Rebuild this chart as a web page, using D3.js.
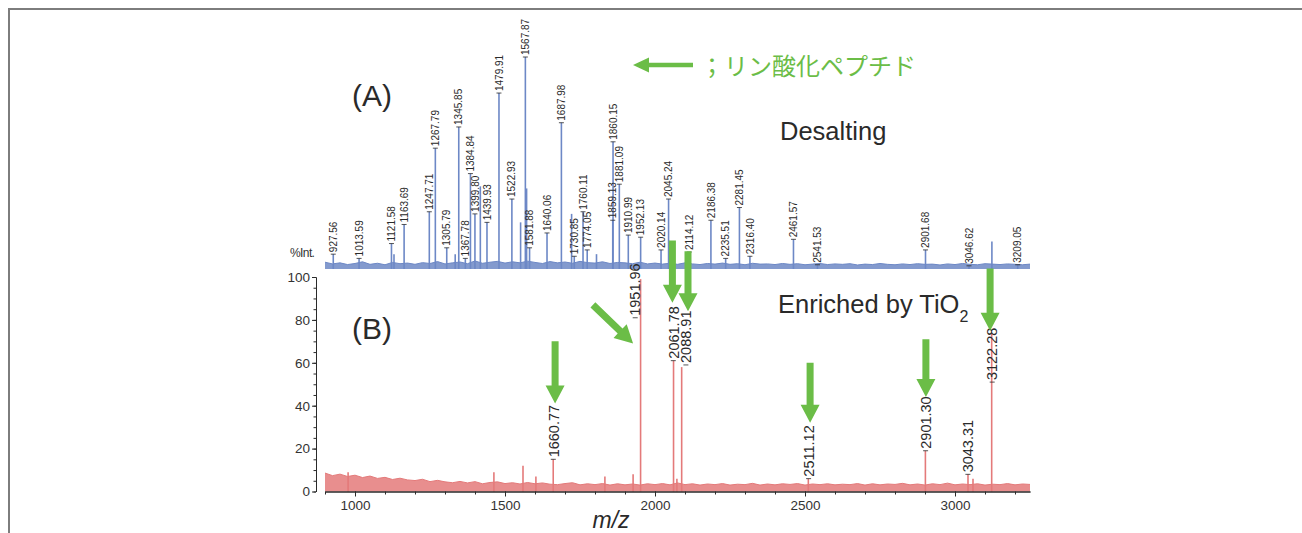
<!DOCTYPE html>
<html>
<head>
<meta charset="utf-8">
<script src="https://cdn.jsdelivr.net/npm/d3@7"></script>
<style>
	body{margin:0;background:#fff;overflow:hidden;}
	svg text{font-family:"Liberation Sans",Arial,sans-serif;}
</style>
</head>
<body>
<div id="chart-box"></div>
<script>
// (A) Desalting: labelled peaks, m/z and %Int
const aPeakMz=[927.56,1013.59,1121.58,1163.69,1247.71,1267.79,1305.79,1345.85,1367.78,1384.84,1399.80,1439.93,1479.91,1522.93,1567.87,1581.88,1640.06,1687.98,1730.85,1760.11,1774.05,1859.13,1860.15,1881.09,1910.99,1952.13,2020.14,2045.24,2114.12,2186.38,2235.51,2281.45,2316.40,2461.57,2541.53,2901.68,3046.62,3209.05];
const aPeakInt=[7,5,12,21,27,57,10,67,5,45,26,22,83,33,100,10,17,69,6,27,9,23,60,40,16,15,9,33,8,23,5,29,6,14,2,9,1.5,2];
// (A) peaks without label
const aExtraMz=[1130,1334,1417.8,1552,1572,1722,1805,3123];
const aExtraInt=[7,7,39,22,38,26,7,13];
// (A) baseline noise, every 25 m/z from 900
const aNoise=[3.2,2.4,2.9,2.1,2.6,3.4,2.2,2.7,2.0,3.1,2.5,2.8,2.2,3.0,2.6,3.5,2.4,2.9,3.3,2.5,3.8,2.7,3.2,3.6,2.8,3.4,2.9,3.7,3.1,2.6,3.5,2.9,3.3,2.7,3.6,3.0,2.8,3.4,2.6,3.1,2.9,2.5,3.2,2.4,2.8,2.3,2.7,2.2,2.9,2.4,2.1,2.6,2.3,2.8,2.2,2.5,2.0,2.7,2.3,2.4,2.1,2.6,2.2,2.5,2.0,2.3,2.6,2.1,2.4,2.2,2.5,1.9,2.3,2.1,2.6,2.2,2.0,2.4,2.1,2.5,2.2,2.3,1.9,2.4,2.1,2.6,2.2,2.0,2.5,2.3,2.1,2.4,2.2,2.0,2.3];

// (B) Enriched by TiO2: labelled peaks
const bPeakMz=[1660.77,1951.96,2061.78,2088.91,2511.12,2901.30,3043.31,3122.28];
const bPeakInt=[15,99,61,58,6,19,8,74];
// (B) where each label sits: m/z of its centre and %Int of its start
const bLabelMz=[1661,1934,2061,2103,2512,2902,3043,3124];
const bLabelAt=[15,81,61,59,6,19,8,51];
// (B) peaks without label
const bExtraMz=[977,1463,1560,1603,1833,1927,2073,3060];
const bExtraInt=[9,9,12,7,7,8,6,6];
// (B) baseline noise, every 25 m/z from 900
const bNoise=[8.6,7.4,8.1,7.0,7.6,6.5,7.2,6.1,6.6,5.6,6.2,5.4,5.1,5.7,4.6,5.2,4.5,4.1,4.7,4.0,4.6,3.6,4.2,4.5,3.7,4.1,3.5,4.2,3.6,4.0,3.4,3.2,3.7,4.1,3.1,3.6,3.2,3.7,3.0,3.6,3.1,3.5,3.0,3.6,3.2,3.7,3.1,4.0,3.2,3.6,3.0,3.5,3.2,3.7,3.0,3.4,3.2,3.8,3.0,3.5,3.1,3.6,3.3,3.7,3.0,3.5,3.2,3.6,3.1,3.4,3.2,3.7,3.0,3.6,3.1,3.5,3.3,3.8,3.1,3.5,3.0,3.6,3.2,3.9,3.1,3.5,3.2,3.6,3.0,3.4,3.2,3.7,3.1,3.5,3.3];

// green arrows in (B): start and tip, in m/z and %Int
const arrowFromMz=[1667,1793,2058,2110,2517,2903,3117];
const arrowFromInt=[70,87,117,112,60,71,104];
const arrowToMz=[1667,1927,2058,2110,2517,2903,3117];
const arrowToInt=[41,69,88,84,32,44,75];

// axes
const xTicks=[1000,1500,2000,2500,3000];
const yTicks=[0,20,40,60,80,100];

const chart=
{
	draw: function ()
	{
		const w=1302;
		const h=533;
		const blue="#6d88c6";
		const red="#e47a7a";
		const green="#6bbd47";
		const ink="#2a2a2a";

		const svg=d3.select("#chart-box")
		.append("svg")
		.attr("width",w)
		.attr("height",h);

		// frame
		svg.append("rect")
		.attr("x",9)
		.attr("y",9)
		.attr("width",1400)
		.attr("height",600)
		.style("fill","none")
		.style("stroke","#7d7d7d")
		.style("stroke-width",2);

		// scales
		const xScale=d3.scaleLinear()
		.domain([900,3250])
		.range([325,1030]);
		const yA=d3.scaleLinear()
		.domain([0,100])
		.range([269,57]);
		const yB=d3.scaleLinear()
		.domain([0,100])
		.range([491.5,277]);

		const noiseMz=(arr)=> arr.map((d,i)=> 900+25*i);

		//spectra
		this.plotSpectrum(svg,xScale,yA,aNoise,noiseMz(aNoise),aPeakMz.concat(aExtraMz),aPeakInt.concat(aExtraInt),blue);
		this.plotSpectrum(svg,xScale,yB,bNoise,noiseMz(bNoise),bPeakMz.concat(bExtraMz),bPeakInt.concat(bExtraInt),red);

		// peak labels
		this.plotLabels(svg,xScale,yA,aPeakMz,aPeakMz,aPeakInt,10,ink);
		this.plotLabels(svg,xScale,yB,bPeakMz,bLabelMz,bLabelAt,14.5,ink);

		// X axis
		svg.append("g")
		.attr("transform","translate(0,491.5)")
		.call(d3.axisBottom(xScale).tickValues(xScale.ticks(24)).tickSize(3).tickSizeOuter(0).tickFormat(""))
		.call(g=> g.selectAll("path,line").style("stroke",ink));
		svg.append("g")
		.attr("id","x-axis")
		.attr("transform","translate(0,491.5)")
		.call(d3.axisBottom(xScale).tickValues(xTicks).tickSize(5).tickSizeOuter(0).tickPadding(4).tickFormat(d3.format("d")))
		.call(g=> g.selectAll("path,line").style("stroke",ink))
		.call(g=> g.selectAll("text").style("font-size","13.5px").style("fill","#333").style("font-family","'Liberation Sans',Arial,sans-serif"));

		// Y axis
		svg.append("g")
		.attr("transform","translate(316,0)")
		.call(d3.axisLeft(yB).tickValues(yB.ticks(20)).tickSize(2.5).tickSizeOuter(0).tickFormat(""))
		.call(g=> g.selectAll("path,line").style("stroke",ink));
		svg.append("g")
		.attr("id","y-axis")
		.attr("transform","translate(316,0)")
		.call(d3.axisLeft(yB).tickValues(yTicks).tickSize(4).tickSizeOuter(0).tickPadding(2))
		.call(g=> g.selectAll("path,line").style("stroke",ink))
		.call(g=> g.selectAll("text").style("font-size","13.5px").style("fill","#333").style("font-family","'Liberation Sans',Arial,sans-serif"));

		// Text
		svg.append("text")
		.attr("x",290)
		.attr("y",257)
		.style("font-size","12px")
		.style("letter-spacing","-0.6px")
		.style("fill","#333")
		.text("%Int.");

		svg.append("text")
		.attr("x",611)
		.attr("y",528)
		.attr("text-anchor","middle")
		.style("font-size","23px")
		.style("font-style","italic")
		.style("fill",ink)
		.text("m/z");

		svg.append("text")
		.attr("x",352)
		.attr("y",106)
		.style("font-size","30px")
		.style("fill",ink)
		.text("(A)");
		svg.append("text")
		.attr("x",352)
		.attr("y",339)
		.style("font-size","30px")
		.style("fill",ink)
		.text("(B)");

		svg.append("text")
		.attr("x",780)
		.attr("y",140)
		.style("font-size","25.5px")
		.style("fill",ink)
		.text("Desalting");

		const enr=svg.append("text")
		.attr("x",778)
		.attr("y",313)
		.style("font-size","25.5px")
		.style("fill",ink);
		enr.append("tspan").text("Enriched by TiO");
		enr.append("tspan")
		.attr("dy",9)
		.style("font-size","16px")
		.text("2");

		// legend: arrow = phosphopeptide
		svg.append("path")
		.attr("d",this.arrowPath(693,65,633,65,4.5,15,16))
		.style("fill",green);
		svg.append("text")
		.attr("x",700)
		.attr("y",75)
		.style("font-family","'Noto Sans CJK JP',sans-serif")
		.style("font-size","24px")
		.style("fill",green)
		.text("；リン酸化ペプチド");

		// green arrows
		svg.selectAll(".arrow")
		.data(arrowFromMz)
		.enter()
		.append("path")
		.attr("class","arrow")
		.attr("d",(d,i)=> this.arrowPath(xScale(d),yB(arrowFromInt[i]),xScale(arrowToMz[i]),yB(arrowToInt[i]),7,19,18))
		.style("fill",green);
	},
	plotSpectrum: function (svg,xsc,ysc,noise,noiseX,mz,inten,col)
	{
		const pts=noise.map((d,i)=> [noiseX[i],d]);
		// noise band
		svg.append("path")
		.datum(pts)
		.attr("d",d3.area().x(d=> xsc(d[0])).y0(ysc(0)).y1(d=> ysc(d[1])))
		.style("fill",col)
		.style("opacity",0.85);
		svg.append("path")
		.datum(pts)
		.attr("d",d3.line().x(d=> xsc(d[0])).y(d=> ysc(d[1])))
		.style("fill","none")
		.style("stroke",col)
		.style("stroke-width",1);
		// peaks
		svg.append("g")
		.selectAll("line")
		.data(mz)
		.enter()
		.append("line")
		.attr("x1",d=> xsc(d))
		.attr("x2",d=> xsc(d))
		.attr("y1",ysc(0))
		.attr("y2",(d,i)=> ysc(inten[i]))
		.style("stroke",col)
		.style("stroke-width",1.6);
	},
	plotLabels: function (svg,xsc,ysc,mz,pos,at,size,col)
	{
		const g=svg.append("g");
		g.selectAll("line")
		.data(mz)
		.enter()
		.append("line")
		.attr("x1",(d,i)=> xsc(pos[i])-2.5)
		.attr("x2",(d,i)=> xsc(pos[i])+2.5)
		.attr("y1",(d,i)=> ysc(at[i]))
		.attr("y2",(d,i)=> ysc(at[i]))
		.style("stroke",col)
		.style("stroke-width",0.8);
		g.selectAll("text")
		.data(mz)
		.enter()
		.append("text")
		.attr("transform",(d,i)=> "translate("+xsc(pos[i])+","+(ysc(at[i])-2)+") rotate(-90)")
		.attr("dy","0.36em")
		.style("font-size",size+"px")
		.style("fill",col)
		.text(d=> d.toFixed(2));
	},
	arrowPath: function (x0,y0,x1,y1,sw,hw,hl)
	{
		const len=Math.hypot(x1-x0,y1-y0);
		const ux=(x1-x0)/len, uy=(y1-y0)/len;
		const px=-uy, py=ux;
		const bx=x1-ux*hl, by=y1-uy*hl;
		const pts=[
			[x0+px*sw/2,y0+py*sw/2],[bx+px*sw/2,by+py*sw/2],[bx+px*hw/2,by+py*hw/2],
			[x1,y1],
			[bx-px*hw/2,by-py*hw/2],[bx-px*sw/2,by-py*sw/2],[x0-px*sw/2,y0-py*sw/2]
		];
		return "M"+pts.map(p=> p.join(",")).join("L")+"Z";
	}
};

document.addEventListener("DOMContentLoaded",function (event)
{
	chart.draw();
});
</script>
</body>
</html>
